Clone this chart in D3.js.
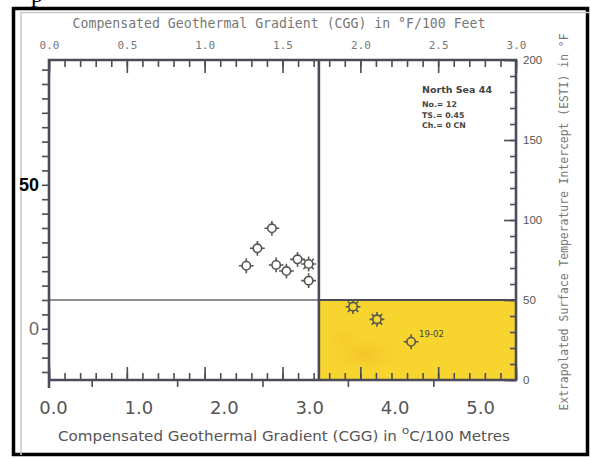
<!DOCTYPE html>
<html><head><meta charset="utf-8">
<script src="https://cdn.jsdelivr.net/npm/d3@7"></script>
<style>
body{margin:0;background:#fff;}
svg{display:block;}
</style></head>
<body>
<svg id="c" width="591" height="458"></svg>
<script>
// ---- data ----
const cggC = [2.61, 2.44, 2.31, 2.66, 2.78, 2.91, 3.04, 3.04, 3.56, 3.84, 4.24]; // °C/100 m
const estiF = [94.8, 82.3, 71.4, 71.9, 68.1, 75.4, 72.5, 62.1, 45.8, 37.9, 23.9]; // °F
const markerType = ["c","c","c","c","c","c","s","c","s","s","c"];
const pointLabels = ["","","","","","","","","","","19-02"];
const topTicks = [0, 0.5, 1.0, 1.5, 2.0, 2.5, 3.0];           // °F/100 ft
const bottomTicks = [0, 1, 2, 3, 4, 5];                       // °C/100 m
const rightTicks = [0, 50, 100, 150, 200];                    // °F
const leftTicks = [0, 50];                                    // °C
const cutCGG = 3.16;   // °C/100 m
const cutESTI = 50;    // °F
const infoLines = ["North Sea 44", "No.= 12", "TS.= 0.45", "Ch.= 0 CN"];

const F2C = 5/9*3.28084; // °F/100ft -> °C/100m
const svg = d3.select("#c");
const L = 49, R = 516, T = 60, B = 380;
const xF = d3.scaleLinear().domain([0, 3]).range([L, R]);
const xC = d3.scaleLinear().domain([0, 3*F2C]).range([L, R]);
const yF = d3.scaleLinear().domain([0, 200]).range([B, T]);
const yC = d3.scaleLinear().domain([(0-32)/1.8, (200-32)/1.8]).range([B, T]);

const axisCol = "#4b4b5a";
const defs = svg.append("defs");
const rg = defs.append("radialGradient").attr("id","blot");
rg.append("stop").attr("offset","0%").attr("stop-color","#ef9a1e").attr("stop-opacity",0.3);
rg.append("stop").attr("offset","100%").attr("stop-color","#f6d22e").attr("stop-opacity",0);

// frame
svg.append("rect").attr("x",13.5).attr("y",8.5).attr("width",574).attr("height",446)
  .attr("fill","none").attr("stroke","#000").attr("stroke-width",3.5);
svg.append("path").attr("d","M21,455 V12.5 H590").attr("fill","none").attr("stroke","#c8c8c8").attr("stroke-width",1.5);
svg.append("text").attr("x",31).attr("y",2).attr("font-family","Liberation Serif").attr("font-size",24).text("p");

// yellow zone
const zx = xC(cutCGG), zy = yF(cutESTI);
svg.append("rect").attr("x",zx).attr("y",zy).attr("width",R-zx).attr("height",B-zy).attr("fill","#f7d52e");
svg.append("ellipse").attr("cx",xC(3.7)).attr("cy",yF(16)).attr("rx",45).attr("ry",22).attr("fill","url(#blot)");
svg.append("ellipse").attr("cx",xC(3.45)).attr("cy",yF(26)).attr("rx",25).attr("ry",18).attr("fill","url(#blot)").attr("opacity",0.6);

// reference lines
svg.append("line").attr("x1",L).attr("x2",R).attr("y1",zy).attr("y2",zy).attr("stroke","#6a6a72").attr("stroke-width",1.3);
svg.append("line").attr("x1",zx).attr("x2",R).attr("y1",zy).attr("y2",zy).attr("stroke","#4b4b55").attr("stroke-width",1.8);
svg.append("line").attr("x1",zx).attr("x2",zx).attr("y1",T).attr("y2",B).attr("stroke",axisCol).attr("stroke-width",2.6);

function styleAxis(g){
  g.select(".domain").remove();
  g.selectAll(".tick line").attr("stroke",axisCol).attr("stroke-width",1.6);
}
const minorF = d3.range(0, 31).map(i => i/10);
const minorTemp = d3.range(0, 201, 10);

// top axis
svg.append("g").attr("transform",`translate(0,${T})`).call(d3.axisTop(xF).tickValues(minorF).tickSize(-7).tickFormat("")).call(styleAxis);
svg.append("g").attr("transform",`translate(0,${T})`)
  .call(d3.axisTop(xF).tickValues(topTicks).tickSize(-13).tickPadding(11).tickFormat(d3.format(".1f")))
  .call(styleAxis)
  .call(g => g.selectAll("text").attr("font-family","DejaVu Sans Mono").attr("font-size",11).attr("fill","#777"));
// bottom axis (inner °F ticks)
svg.append("g").attr("transform",`translate(0,${B})`).call(d3.axisBottom(xF).tickValues(minorF).tickSize(-7).tickFormat("")).call(styleAxis);
svg.append("g").attr("transform",`translate(0,${B})`).call(d3.axisBottom(xF).tickValues(topTicks).tickSize(-13).tickFormat("")).call(styleAxis);
// bottom outer °C ticks
svg.append("g").attr("transform",`translate(0,${B})`)
  .call(d3.axisBottom(xC).tickValues(d3.range(0.5, 5.5, 0.5).filter(v=>v%1!==0)).tickSize(7).tickFormat("")).call(styleAxis);
svg.append("g").attr("transform",`translate(4,${B})`)
  .call(d3.axisBottom(xC).tickValues(bottomTicks).tickSize(0).tickPadding(21).tickFormat(d3.format(".1f")))
  .call(g => {g.select(".domain").remove();})
  .call(g => g.selectAll("text").attr("font-family","DejaVu Sans").attr("font-size",18).attr("fill","#555"));
// left axis
svg.append("g").attr("transform",`translate(${L},0)`)
  .call(d3.axisLeft(yC).tickValues(d3.range(-15, 91, 5)).tickSize(7).tickFormat("")).call(styleAxis);
svg.append("g").attr("transform",`translate(${L},0)`)
  .call(d3.axisLeft(yC).tickValues(leftTicks).tickSize(0).tickPadding(10).tickFormat(d3.format("d")))
  .call(g => {g.select(".domain").remove();})
  .call(g => g.selectAll("text").attr("font-family","Liberation Sans").attr("font-size",18)
     .attr("fill", d => d===50 ? "#000" : "#666").attr("font-weight", d => d===50 ? "bold" : "normal"));
// right axis
svg.append("g").attr("transform",`translate(${R},0)`).call(d3.axisRight(yF).tickValues(minorTemp).tickSize(-6).tickFormat("")).call(styleAxis);
svg.append("g").attr("transform",`translate(${R},0)`)
  .call(d3.axisRight(yF).tickValues(rightTicks).tickSize(-12).tickPadding(7).tickFormat(d3.format("d")))
  .call(styleAxis)
  .call(g => g.selectAll("text").attr("font-family","Liberation Sans").attr("font-size",11.5).attr("fill","#555"));

// axis frame lines
svg.append("path").attr("d",`M${L},${B+8} V${T} H${R} V${B} H${L}`).attr("fill","none")
  .attr("stroke",axisCol).attr("stroke-width",2.6);

// titles
svg.append("text").attr("x",279).attr("y",28).attr("text-anchor","middle")
  .attr("font-family","DejaVu Sans Mono").attr("font-size",13.2).attr("fill","#777")
  .text("Compensated Geothermal Gradient (CGG) in °F/100 Feet");
svg.append("text").attr("transform","translate(568,222) rotate(-90)").attr("text-anchor","middle")
  .attr("font-family","DejaVu Sans Mono").attr("font-size",11.4).attr("fill","#777")
  .text("Extrapolated Surface Temperature Intercept (ESTI) in °F");
const bt = svg.append("text").attr("x",58).attr("y",441)
  .attr("font-family","DejaVu Sans").attr("font-size",13.5).attr("fill","#555")
  .attr("textLength",452).attr("lengthAdjust","spacingAndGlyphs");
bt.append("tspan").text("Compensated Geothermal Gradient (CGG) in ");
bt.append("tspan").attr("dy",-7).attr("font-size",11).text("o");
bt.append("tspan").attr("dy",7).text("C/100 Metres");

// info box
const info = svg.append("g").attr("font-family","DejaVu Sans").attr("fill","#333");
info.append("text").attr("x",422).attr("y",93).attr("font-size",9.5).attr("font-weight","bold").attr("fill","#444").text(infoLines[0]);
infoLines.slice(1).forEach((t,i)=>info.append("text").attr("x",422).attr("y",107+i*10.5).attr("font-size",7.8).attr("font-weight","bold").attr("fill","#444").text(t));

// markers
function markerPath(type){
  const r = 4.2, s = 3.2;
  const n = type==="s" ? 8 : 4;
  let p = "";
  for(let i=0;i<n;i++){
    const a = i*2*Math.PI/n;
    p += `M${(r*Math.cos(a)).toFixed(2)},${(r*Math.sin(a)).toFixed(2)}L${((r+s)*Math.cos(a)).toFixed(2)},${((r+s)*Math.sin(a)).toFixed(2)}`;
  }
  return p;
}
const pts = cggC.map((c,i)=>({c, f:estiF[i], t:markerType[i], lab:pointLabels[i]}));
const mg = svg.append("g").selectAll("g").data(pts).join("g")
  .attr("transform", d => `translate(${xC(d.c)},${yF(d.f)})`);
mg.append("circle").attr("r",4.2).attr("fill","none").attr("stroke","#555").attr("stroke-width",1.6);
mg.append("path").attr("d", d => markerPath(d.t)).attr("stroke","#555").attr("stroke-width",1.6);
mg.filter(d=>d.lab).append("text").attr("x",8).attr("y",-5).attr("font-family","DejaVu Sans").attr("font-size",8.5)
  .attr("fill","#444").text(d=>d.lab);
</script>
</body></html>
